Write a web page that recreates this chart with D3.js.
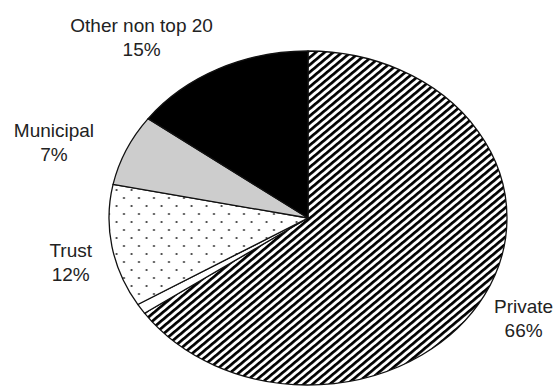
<!DOCTYPE html>
<html>
<head>
<meta charset="utf-8">
<script src="https://cdn.jsdelivr.net/npm/d3@7"></script>
<style>
  body { margin: 0; background: #fff; }
  text { font-family: "Liberation Sans", Arial, sans-serif; fill: #222; }
</style>
</head>
<body>
<div id="chart"></div>
<script>
(function () {

// data (the blank one is the thin white wedge)
const categories = ["Private", "", "Trust", "Municipal", "Other non top 20"];
const shares = [66, 1, 12, 7, 15];
const shareLabels = ["66%", "", "12%", "7%", "15%"];

const width = 559, height = 392;

// the pie is an ellipse, so draw a circle and stretch it sideways
const cx = 308, cy = 218, ry = 167, rx = 199;
const sx = rx / ry;

// nudges that move each label from its outer-arc spot to where it sits
const labelNudge = [[4, 6], [0, 0], [-2, 9], [-36, 5], [-59, -3]];

const svg = d3.select("#chart").append("svg")
    .attr("width", width)
    .attr("height", height);

const defs = svg.append("defs");

// diagonal hatching for Private (undo the stretch, then tilt the stripes)
const hatch = defs.append("pattern")
    .attr("id", "hatch")
    .attr("patternUnits", "userSpaceOnUse")
    .attr("width", 20)
    .attr("height", 5.6)
    .attr("patternTransform", `scale(${1 / sx},1) rotate(-40)`);
hatch.append("rect").attr("width", 20).attr("height", 5.6).attr("fill", "#fff");
hatch.append("rect").attr("width", 20).attr("height", 2.7).attr("fill", "#000");

// staggered dots for Trust
const dots = defs.append("pattern")
    .attr("id", "dots")
    .attr("patternUnits", "userSpaceOnUse")
    .attr("width", 15)
    .attr("height", 16)
    .attr("patternTransform", `scale(${1 / sx},1)`);
dots.append("rect").attr("width", 15).attr("height", 16).attr("fill", "#fff");
dots.selectAll("circle")
  .data([[3.5, 4], [11, 12]])
  .join("circle")
    .attr("cx", d => d[0])
    .attr("cy", d => d[1])
    .attr("r", 1.1)
    .attr("fill", "#333");

const fills = d3.scaleOrdinal()
    .domain(categories)
    .range(["url(#hatch)", "#fff", "url(#dots)", "#cdcdcd", "#000"]);

const pie = d3.pie().sort(null).value(d => d.value);
const arcs = pie(categories.map((c, i) => ({cat: c, value: shares[i], label: shareLabels[i], i: i})));

const arc = d3.arc().innerRadius(0).outerRadius(ry);

const g = svg.append("g")
    .attr("transform", `translate(${cx},${cy}) scale(${sx},1)`);

g.selectAll("path")
  .data(arcs)
  .join("path")
    .attr("d", arc)
    .attr("fill", d => fills(d.data.cat))
    .attr("stroke", "#111")
    .attr("stroke-width", 1.3)
    .attr("vector-effect", "non-scaling-stroke")
    .attr("stroke-linejoin", "round");

// labels, two lines each
const k = 1.2;
const labels = svg.append("g")
  .selectAll("text")
  .data(arcs.filter(d => d.data.cat !== ""))
  .join("text")
    .attr("text-anchor", "middle")
    .attr("font-size", 19)
    .attr("transform", d => {
      const a = (d.startAngle + d.endAngle) / 2;
      const n = labelNudge[d.data.i];
      const x = cx + rx * k * Math.sin(a) + n[0];
      const y = cy - ry * k * Math.cos(a) + n[1];
      return `translate(${x},${y})`;
    });

labels.append("tspan")
    .attr("x", 0)
    .attr("y", -4)
    .text(d => d.data.cat);

labels.append("tspan")
    .attr("x", 0)
    .attr("y", 20)
    .text(d => d.data.label);

})()
</script>
</body>
</html>
